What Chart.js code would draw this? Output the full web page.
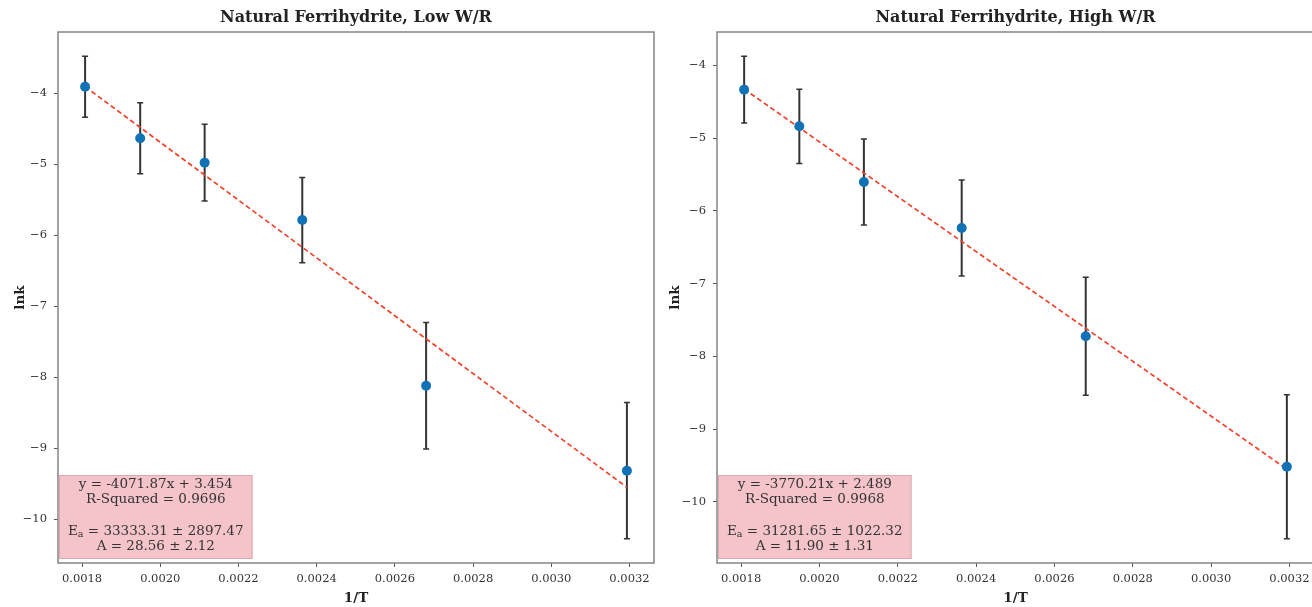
<!DOCTYPE html>
<html>
<head>
<meta charset="utf-8">
<script src="https://cdn.jsdelivr.net/npm/chart.js@4.4.0/dist/chart.umd.min.js"></script>
<style>
html, body { margin: 0; padding: 0; background: #fff; width: 1312px; height: 607px; overflow: hidden; }
canvas { position: absolute; top: 0; }
#c1 { left: 0; }
#c2 { left: 656px; }
</style>
</head>
<body>
<canvas id="c1" width="656" height="607"></canvas>
<canvas id="c2" width="662" height="607"></canvas>
<script>
// 1/T en K^-1 (280, 240, 200, 150, 100, 40 °C)
var invT = [0.0018078, 0.0019487, 0.0021135, 0.0023632, 0.0026799, 0.0031934];

// Low W/R
var lnkLow = [-3.907, -4.634, -4.977, -5.785, -8.118, -9.315];
var errLow = [0.43, 0.50, 0.54, 0.60, 0.89, 0.96];
var fitLow = [-4071.87, 3.454];
var boxLow = ["y = -4071.87x + 3.454", "R-Squared = 0.9696", "E_a = 33333.31 \u00b1 2897.47", "A = 28.56 \u00b1 2.12"];

// High W/R
var lnkHigh = [-4.334, -4.838, -5.603, -6.235, -7.723, -9.518];
var errHigh = [0.46, 0.51, 0.59, 0.66, 0.81, 0.99];
var fitHigh = [-3770.21, 2.489];
var boxHigh = ["y = -3770.21x + 2.489", "R-Squared = 0.9968", "E_a = 31281.65 \u00b1 1022.32", "A = 11.90 \u00b1 1.31"];

// eixos
var xTicks = [0.0018, 0.0020, 0.0022, 0.0024, 0.0026, 0.0028, 0.0030, 0.0032];
var yTicks = [-10, -9, -8, -7, -6, -5, -4];
var xLimits = [0.0017385, 0.0032627];
var yLimitsLow = [-10.615, -3.137];
var yLimitsHigh = [-10.84, -3.542];

var FONT = "'DejaVu Serif', 'Liberation Serif', serif";

// Plugin para barras de erro, moldura, título e caixa de texto
var decorPlugin = {
    id: 'decor',
    beforeDatasetsDraw: function (chart, args, opts) {
        var ctx = chart.ctx;
        var xs = chart.scales.x, ys = chart.scales.y;
        ctx.save();
        ctx.strokeStyle = '#333';
        for (var i = 0; i < opts.xs.length; i++) {
            var px = xs.getPixelForValue(opts.xs[i]);
            var top = ys.getPixelForValue(opts.ys[i] + opts.err[i]);
            var bot = ys.getPixelForValue(opts.ys[i] - opts.err[i]);
            ctx.lineWidth = 2;
            ctx.beginPath();
            ctx.moveTo(px, top);
            ctx.lineTo(px, bot);
            ctx.stroke();
            ctx.lineWidth = 1.5;
            ctx.beginPath();
            ctx.moveTo(px - 3, top); ctx.lineTo(px + 3, top);
            ctx.moveTo(px - 3, bot); ctx.lineTo(px + 3, bot);
            ctx.stroke();
        }
        ctx.restore();
    },
    afterDraw: function (chart, args, opts) {
        var ctx = chart.ctx;
        var a = chart.chartArea;
        ctx.save();

        // caixa de texto
        var big = '13.5px ' + FONT, small = '9.5px ' + FONT;
        ctx.font = big;
        var widths = opts.lines.map(function (t) {
            if (t.indexOf('E_a') === 0) {
                var rest = t.slice(3);
                ctx.font = small; var wa = ctx.measureText('a').width;
                ctx.font = big;
                return ctx.measureText('E').width + wa + ctx.measureText(rest).width;
            }
            return ctx.measureText(t).width;
        });
        var maxW = Math.max.apply(null, widths);
        var bw = maxW + 18, bh = 84;
        var bx = a.left + 1, by = a.bottom - 4 - bh;
        ctx.fillStyle = '#f5c4ca';
        ctx.strokeStyle = '#dba9b0';
        ctx.lineWidth = 1;
        ctx.fillRect(bx, by, bw, bh);
        ctx.strokeRect(bx + 0.5, by + 0.5, bw - 1, bh - 1);

        var cx = bx + bw / 2;
        var offs = [9.5, 24, 56.5, 71];
        ctx.fillStyle = '#333';
        ctx.textBaseline = 'middle';
        opts.lines.forEach(function (t, i) {
            var y = by + offs[i];
            if (t.indexOf('E_a') === 0) {
                var x0 = cx - widths[i] / 2;
                ctx.textAlign = 'left';
                ctx.font = big;
                ctx.fillText('E', x0, y);
                x0 += ctx.measureText('E').width;
                ctx.font = small;
                ctx.fillText('a', x0, y + 3.5);
                x0 += ctx.measureText('a').width;
                ctx.font = big;
                ctx.fillText(t.slice(3), x0, y);
            } else {
                ctx.textAlign = 'center';
                ctx.font = big;
                ctx.fillText(t, cx, y);
            }
        });

        // moldura
        ctx.strokeStyle = '#858585';
        ctx.lineWidth = 1.5;
        ctx.strokeRect(a.left, a.top, a.right - a.left, a.bottom - a.top);

        // título
        ctx.fillStyle = '#222';
        ctx.font = 'bold 16px ' + FONT;
        ctx.textAlign = 'center';
        ctx.textBaseline = 'middle';
        ctx.fillText(opts.title, (a.left + a.right) / 2, 18);
        ctx.restore();
    }
};

function noPad(s) {
    s.paddingLeft = 0; s.paddingRight = 0; s.paddingTop = 0; s.paddingBottom = 0;
}

function makeChart(canvasId, title, lnk, err, fit, lines, yLimits, yWidth, padRight, yTitlePad) {
    var ctx = document.getElementById(canvasId).getContext('2d');
    var pts = invT.map(function (x, i) { return { x: x, y: lnk[i] }; });
    var x0 = invT[0], x1 = invT[invT.length - 1];
    var fitLine = [
        { x: x0, y: fit[0] * x0 + fit[1] },
        { x: x1, y: fit[0] * x1 + fit[1] }
    ];
    return new Chart(ctx, {
        type: 'scatter',
        data: {
            datasets: [
                {
                    data: pts,
                    pointRadius: 5,
                    pointBackgroundColor: '#1172b6',
                    pointBorderWidth: 0,
                    showLine: false
                },
                {
                    data: fitLine,
                    showLine: true,
                    pointRadius: 0,
                    borderColor: '#f0432b',
                    borderWidth: 1.7,
                    borderDash: [5, 3],
                    fill: false
                }
            ]
        },
        options: {
            responsive: false,
            animation: false,
            devicePixelRatio: 1,
            events: [],
            layout: { autoPadding: false, padding: { top: 32, left: 0, right: padRight, bottom: 0 } },
            scales: {
                x: {
                    type: 'linear',
                    min: xLimits[0],
                    max: xLimits[1],
                    afterBuildTicks: function (s) { s.ticks = xTicks.map(function (v) { return { value: v }; }); },
                    afterFit: function (s) { s.height = 44; noPad(s); },
                    grid: { drawOnChartArea: false, drawTicks: true, tickLength: 4, tickColor: '#555', tickWidth: 1 },
                    border: { display: false },
                    ticks: {
                        autoSkip: false,
                        maxRotation: 0,
                        padding: 5,
                        color: '#333',
                        font: { family: FONT, size: 11.5 },
                        callback: function (v) { return Number(v).toFixed(4); }
                    },
                    title: {
                        display: true,
                        text: '1/T',
                        color: '#222',
                        padding: { top: 0, bottom: 0 },
                        font: { family: FONT, size: 13.5, weight: 'bold', lineHeight: 1.2 }
                    }
                },
                y: {
                    type: 'linear',
                    min: yLimits[0],
                    max: yLimits[1],
                    afterBuildTicks: function (s) { s.ticks = yTicks.map(function (v) { return { value: v }; }); },
                    afterFit: function (s) { s.width = yWidth; noPad(s); },
                    grid: { drawOnChartArea: false, drawTicks: true, tickLength: 4, tickColor: '#555', tickWidth: 1 },
                    border: { display: false },
                    ticks: {
                        autoSkip: false,
                        padding: 7,
                        color: '#333',
                        font: { family: FONT, size: 11.5 },
                        callback: function (v) { return v < 0 ? '\u2212' + Math.abs(v) : String(v); }
                    },
                    title: {
                        display: true,
                        text: 'lnk',
                        color: '#222',
                        padding: { top: yTitlePad, bottom: 0 },
                        font: { family: FONT, size: 13.5, weight: 'bold', lineHeight: 1.2 }
                    }
                }
            },
            plugins: {
                legend: { display: false },
                tooltip: { enabled: false },
                decor: { xs: invT, ys: lnk, err: err, lines: lines, title: title }
            }
        },
        plugins: [decorPlugin]
    });
}

makeChart('c1', 'Natural Ferrihydrite, Low W/R', lnkLow, errLow, fitLow, boxLow, yLimitsLow, 58, 2, 12);
makeChart('c2', 'Natural Ferrihydrite, High W/R', lnkHigh, errHigh, fitHigh, boxHigh, yLimitsHigh, 61, 4, 11);
</script>
</body>
</html>
